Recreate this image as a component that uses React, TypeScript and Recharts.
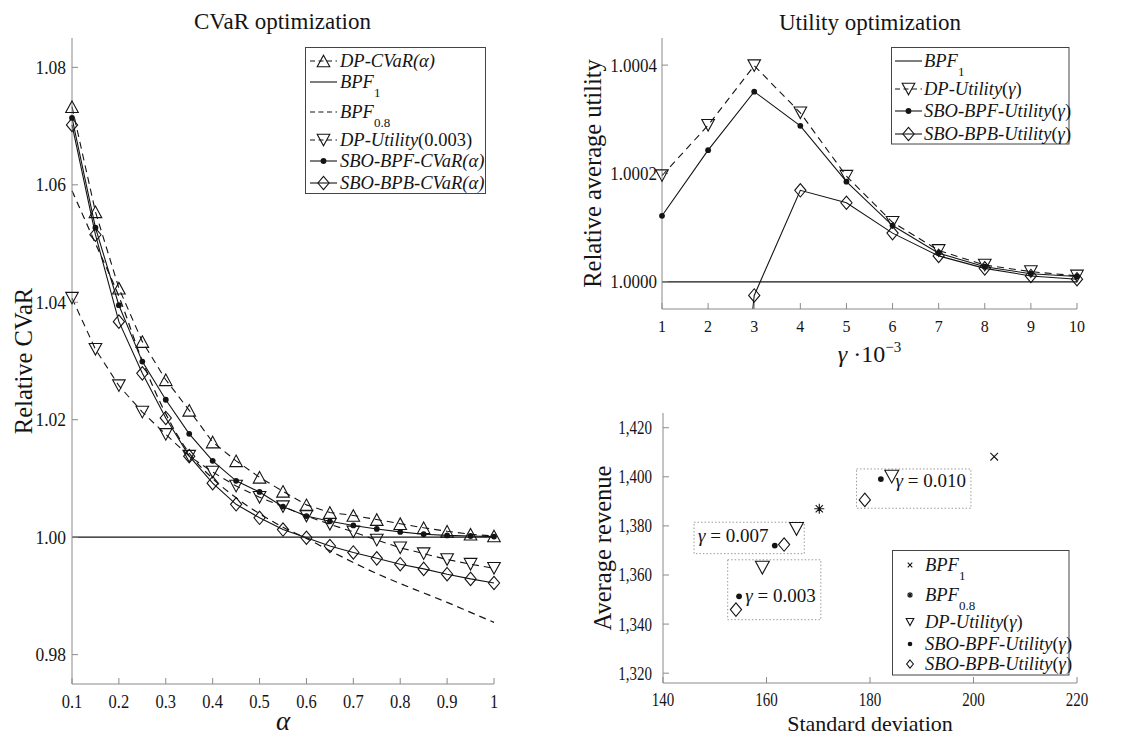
import React from 'react';
import { LineChart, Line, XAxis, YAxis, ScatterChart, Scatter, ReferenceArea } from 'recharts';

const FONT = '"Liberation Serif", "Times New Roman", serif';
const INK = '#141414';
const AXIS = '#8a8a8a';

// ---- CVaR optimization (left) ----
const cvarAlpha = [0.1, 0.15, 0.2, 0.25, 0.3, 0.35, 0.4, 0.45, 0.5, 0.55, 0.6, 0.65, 0.7, 0.75, 0.8, 0.85, 0.9, 0.95, 1];
const cvarTicksX = [0.1, 0.2, 0.3, 0.4, 0.5, 0.6, 0.7, 0.8, 0.9, 1];
const cvarTicksY = [0.98, 1.0, 1.02, 1.04, 1.06, 1.08];
const cvarDpCvar = [1.0733, 1.0554, 1.0424, 1.0333, 1.0268, 1.0216, 1.0162, 1.013, 1.0102, 1.0078, 1.0055, 1.0042, 1.0037, 1.003, 1.0023, 1.0016, 1.001, 1.0005, 1.0002];
const cvarBpf1 = [1, 1, 1, 1, 1, 1, 1, 1, 1, 1, 1, 1, 1, 1, 1, 1, 1, 1, 1];
const cvarBpf08 = [1.059, 1.05, 1.041, 1.03, 1.021, 1.0143, 1.01, 1.0067, 1.004, 1.0017, 0.9998, 0.9977, 0.9957, 0.9938, 0.9921, 0.9905, 0.9889, 0.9872, 0.9855];
const cvarDpUtility = [1.0407, 1.032, 1.0258, 1.0213, 1.0175, 1.0138, 1.0111, 1.0087, 1.0068, 1.0052, 1.0036, 1.0022, 1.0009, 0.9995, 0.9982, 0.9972, 0.9962, 0.9954, 0.9947];
const cvarSboBpf = [1.0714, 1.0527, 1.0395, 1.0299, 1.0234, 1.0176, 1.013, 1.0096, 1.0077, 1.0052, 1.0036, 1.0027, 1.002, 1.0014, 1.0009, 1.0005, 1.0003, 1.0002, 1.0001];
const cvarSboBpb = [1.0702, 1.0515, 1.0367, 1.0279, 1.0203, 1.0138, 1.0092, 1.0056, 1.0033, 1.0013, 0.9999, 0.9985, 0.9974, 0.9964, 0.9954, 0.9946, 0.9937, 0.9929, 0.9922];

// ---- Utility optimization (top right) ----
const utilGamma = [1, 2, 3, 4, 5, 6, 7, 8, 9, 10];
const utilTicksY = [1.0, 1.0002, 1.0004];
const utilBpf1 = [1, 1, 1, 1, 1, 1, 1, 1, 1, 1];
const utilDp = [1.000196, 1.000289, 1.000399, 1.000312, 1.000195, 1.00011, 1.000058, 1.000031, 1.000019, 1.000011];
const utilSboBpf = [1.000122, 1.000243, 1.000351, 1.000288, 1.000185, 1.000104, 1.000053, 1.000028, 1.000015, 1.00001];
const utilSboBpb = [0.9989, 0.99915, 0.999975, 1.000169, 1.000146, 1.00009, 1.000048, 1.000025, 1.000011, 1.000005];

// ---- Revenue vs standard deviation (bottom right) ----
const revTicksX = [140, 160, 180, 200, 220];
const revTicksY = [1320, 1340, 1360, 1380, 1400, 1420];
const bpf1Sd = [204.0];
const bpf1Rev = [1408.2];
const bpf08Sd = [170.2];
const bpf08Rev = [1387.0];
const dpUtilSd = [159.2, 165.8, 184.2];
const dpUtilRev = [1363.0, 1378.8, 1400.1];
const sboBpfSd = [154.7, 161.6, 182.1];
const sboBpfRev = [1351.3, 1372.0, 1399.1];
const sboBpbSd = [154.1, 163.4, 179.0];
const sboBpbRev = [1345.9, 1372.4, 1390.6];
const gammaBoxLabels = ['0.003', '0.007', '0.010'];
const gammaBoxSd = [[152.5, 170.5], [146.0, 167.3], [177.4, 199.5]];
const gammaBoxRev = [[1341.8, 1366.2], [1368.7, 1381.5], [1387.2, 1403.2]];

const cvarRows = cvarAlpha.map((a, i) => ({
  alpha: a,
  dpCvar: cvarDpCvar[i],
  bpf1: cvarBpf1[i],
  bpf08: cvarBpf08[i],
  dpUtility: cvarDpUtility[i],
  sboBpf: cvarSboBpf[i],
  sboBpb: cvarSboBpb[i],
}));

const utilRows = utilGamma.map((g, i) => ({
  gamma: g,
  bpf1: utilBpf1[i],
  dp: utilDp[i],
  sboBpf: utilSboBpf[i],
  sboBpb: utilSboBpb[i],
}));

const pts = (sd: number[], rev: number[]) => sd.map((s, i) => ({ sd: s, rev: rev[i] }));

type Kind = 'up' | 'down' | 'dot' | 'diamond' | 'cross' | 'star';

function Marker({ cx, cy, kind, s = 1 }: { cx?: number; cy?: number; kind: Kind; s?: number }) {
  if (cx == null || cy == null || Number.isNaN(cx) || Number.isNaN(cy)) return null;
  const common = { stroke: INK, strokeWidth: 1.1, fill: 'none' };
  if (kind === 'up') {
    const w = 6.3 * s, h = 5.8 * s;
    return <polygon points={`${cx},${cy - h} ${cx + w},${cy + h} ${cx - w},${cy + h}`} {...common} />;
  }
  if (kind === 'down') {
    const w = 6.3 * s, h = 5.8 * s;
    return <polygon points={`${cx - w},${cy - h} ${cx + w},${cy - h} ${cx},${cy + h}`} {...common} />;
  }
  if (kind === 'diamond') {
    const w = 5.6 * s, h = 6.7 * s;
    return <polygon points={`${cx},${cy - h} ${cx + w},${cy} ${cx},${cy + h} ${cx - w},${cy}`} {...common} />;
  }
  if (kind === 'dot') {
    return <circle cx={cx} cy={cy} r={2.9 * s} fill={INK} stroke="none" />;
  }
  if (kind === 'cross') {
    const r = 3.8 * s;
    return <path d={`M${cx - r},${cy - r}L${cx + r},${cy + r}M${cx + r},${cy - r}L${cx - r},${cy + r}`} {...common} />;
  }
  const r = 5 * s, d = r * 0.72;
  return (
    <path
      d={`M${cx - r},${cy}L${cx + r},${cy}M${cx},${cy - r}L${cx},${cy + r}M${cx - d},${cy - d}L${cx + d},${cy + d}M${cx + d},${cy - d}L${cx - d},${cy + d}`}
      {...common}
    />
  );
}

const dotOf = (kind: Kind) => (p: any) => <Marker key={`${kind}-${p.index}`} cx={p.cx} cy={p.cy} kind={kind} />;
const shapeOf = (kind: Kind, s = 1) => (p: any) => <Marker cx={p.cx} cy={p.cy} kind={kind} s={s} />;

// tick labels in the figure are slightly taller than the font's natural proportions
const makeTick = (fs: number, sy: number, fmt: (v: number) => string, mode: 'x' | 'y') => (p: any) => {
  const capH = 0.66 * fs * sy;
  const by = mode === 'x' ? p.y + capH : p.y + capH / 2;
  return (
    <g transform={`translate(${p.x},${by}) scale(1,${sy})`}>
      <text x={0} y={0} textAnchor={p.textAnchor} fontSize={fs} fontFamily={FONT} fill={INK}>
        {fmt(p.payload.value)}
      </text>
    </g>
  );
};

const DASH = '7 5';

function GammaLabel({ viewBox, text, align, fy }: any) {
  if (!viewBox) return null;
  const { x, y, width, height } = viewBox;
  const tx = align === 'start' ? x + 4 : x + width - 5;
  return (
    <text x={tx} y={y + height * fy} dy={6} textAnchor={align} fontFamily={FONT} fontSize={19} fill={INK}>
      <tspan fontStyle="italic">γ</tspan> = {text}
    </text>
  );
}

const gammaLabelAlign = ['end', 'start', 'end'];
const gammaLabelFy = [0.6, 0.44, 0.3];

function LegendRow({ x, base, kind, line, children, textX, ms }: any) {
  const cy = base - 6;
  return (
    <g>
      {line !== 'none' && (
        <line x1={x} x2={x + 27} y1={cy} y2={cy} stroke={INK} strokeWidth={1.1} strokeDasharray={line === 'dashed' ? '5 3.5' : undefined} />
      )}
      {kind && <Marker cx={line === 'none' ? x : x + 13.5} cy={cy} kind={kind} s={ms ?? (line === 'none' ? 0.6 : 1)} />}
      <text x={textX} y={base} fontFamily={FONT} fontSize={18.5} fill={INK}>
        {children}
      </text>
    </g>
  );
}

const Sub = ({ t }: { t: string }) => (
  <tspan fontSize={13} dy={9}>{t}</tspan>
);

export default function App() {
  return (
    <div style={{ position: 'absolute', left: 0, top: 0, width: 1142, height: 735, background: '#fff', fontFamily: FONT }}>
      {/* Left: CVaR optimization */}
      <div style={{ position: 'absolute', left: 0, top: 0 }}>
        <LineChart width={560} height={735} data={cvarRows} margin={{ top: 38, right: 66, bottom: 0, left: 0 }}>
          <XAxis
            dataKey="alpha"
            type="number"
            domain={[0.1, 1]}
            ticks={cvarTicksX}
            height={51}
            stroke={AXIS}
            tickSize={-6}
            tickMargin={17}
            tick={makeTick(16.5, 1.17, (v) => (v === 1 ? '1' : v.toFixed(1)), 'x')}
            label={(p: any) =>
              p.viewBox ? (
                <text x={p.viewBox.x + p.viewBox.width / 2} y={p.viewBox.y + 46} textAnchor="middle" fontFamily={FONT} fontStyle="italic" fontSize={27} fill={INK}>
                  α
                </text>
              ) : null
            }
          />
          <XAxis xAxisId="top" orientation="top" dataKey="alpha" type="number" domain={[0.1, 1]} ticks={cvarTicksX} height={0} stroke={AXIS} tickSize={-6} tick={false} />
          <YAxis
            type="number"
            domain={[0.975, 1.085]}
            ticks={cvarTicksY}
            width={72}
            stroke={AXIS}
            tickSize={-6}
            tickMargin={12}
            tick={makeTick(17.5, 1.12, (v) => v.toFixed(2), 'y')}
            label={(p: any) => {
              if (!p.viewBox) return null;
              const x = p.viewBox.x + 32;
              const y = p.viewBox.y + p.viewBox.height / 2;
              return (
                <text x={x} y={y} transform={`rotate(-90 ${x} ${y})`} textAnchor="middle" fontFamily={FONT} fontSize={24.5} fill={INK}>
                  Relative CVaR
                </text>
              );
            }}
          />
          <YAxis yAxisId="right" orientation="right" type="number" domain={[0.975, 1.085]} ticks={cvarTicksY} width={0} stroke={AXIS} tickSize={-6} tick={false} />
          <Line dataKey="bpf1" type="linear" stroke={INK} strokeWidth={1.2} dot={false} activeDot={false} isAnimationActive={false} />
          <Line dataKey="bpf08" type="monotone" stroke={INK} strokeWidth={1.2} strokeDasharray={DASH} dot={false} activeDot={false} isAnimationActive={false} />
          <Line dataKey="dpCvar" type="linear" stroke={INK} strokeWidth={1.1} strokeDasharray={DASH} dot={dotOf('up')} activeDot={false} isAnimationActive={false} />
          <Line dataKey="dpUtility" type="linear" stroke={INK} strokeWidth={1.1} strokeDasharray={DASH} dot={dotOf('down')} activeDot={false} isAnimationActive={false} />
          <Line dataKey="sboBpf" type="linear" stroke={INK} strokeWidth={1.1} dot={dotOf('dot')} activeDot={false} isAnimationActive={false} />
          <Line dataKey="sboBpb" type="linear" stroke={INK} strokeWidth={1.1} dot={dotOf('diamond')} activeDot={false} isAnimationActive={false} />
        </LineChart>
      </div>

      {/* Top right: Utility optimization */}
      <div style={{ position: 'absolute', left: 570, top: 0 }}>
        <LineChart width={572} height={380} data={utilRows} margin={{ top: 38, right: 65, bottom: 0, left: 0 }}>
          <XAxis
            dataKey="gamma"
            type="number"
            domain={[1, 10]}
            ticks={utilGamma}
            height={71}
            stroke={AXIS}
            tickSize={-6}
            tickMargin={17}
            tick={makeTick(16, 1.1, (v) => String(v), 'x')}
            label={(p: any) =>
              p.viewBox ? (
                <text x={p.viewBox.x + p.viewBox.width / 2} y={p.viewBox.y + 53} textAnchor="middle" fontFamily={FONT} fontSize={24} fill={INK}>
                  <tspan fontStyle="italic">γ</tspan>
                  <tspan> ·10</tspan>
                  <tspan fontSize={15} dy={-10}>−3</tspan>
                </text>
              ) : null
            }
          />
          <XAxis xAxisId="top" orientation="top" dataKey="gamma" type="number" domain={[1, 10]} ticks={utilGamma} height={0} stroke={AXIS} tickSize={-6} tick={false} />
          <YAxis
            type="number"
            domain={[0.99995, 1.00045]}
            allowDataOverflow
            ticks={utilTicksY}
            width={92}
            stroke={AXIS}
            tickSize={-6}
            tickMargin={11}
            tick={makeTick(17, 1.15, (v) => v.toFixed(4), 'y')}
            label={(p: any) => {
              if (!p.viewBox) return null;
              const x = p.viewBox.x + 31;
              const y = p.viewBox.y + p.viewBox.height / 2;
              return (
                <text x={x} y={y} transform={`rotate(-90 ${x} ${y})`} textAnchor="middle" fontFamily={FONT} fontSize={24.5} fill={INK}>
                  Relative average utility
                </text>
              );
            }}
          />
          <YAxis yAxisId="right" orientation="right" type="number" domain={[0.99995, 1.00045]} allowDataOverflow ticks={utilTicksY} width={0} stroke={AXIS} tickSize={-6} tick={false} />
          <Line dataKey="bpf1" type="linear" stroke={INK} strokeWidth={1.2} dot={false} activeDot={false} isAnimationActive={false} />
          <Line dataKey="dp" type="linear" stroke={INK} strokeWidth={1.1} strokeDasharray={DASH} dot={dotOf('down')} activeDot={false} isAnimationActive={false} />
          <Line dataKey="sboBpf" type="linear" stroke={INK} strokeWidth={1.1} dot={dotOf('dot')} activeDot={false} isAnimationActive={false} />
          <Line dataKey="sboBpb" type="linear" stroke={INK} strokeWidth={1.1} dot={dotOf('diamond')} activeDot={false} isAnimationActive={false} />
        </LineChart>
      </div>

      {/* Bottom right: average revenue vs standard deviation */}
      <div style={{ position: 'absolute', left: 570, top: 380 }}>
        <ScatterChart width={572} height={355} margin={{ top: 33, right: 65, bottom: 0, left: 0 }}>
          <XAxis
            dataKey="sd"
            type="number"
            domain={[140, 220]}
            ticks={revTicksX}
            height={52}
            stroke={AXIS}
            tickSize={-6}
            tickMargin={16}
            tick={makeTick(15, 1.3, (v) => String(v), 'x')}
            label={(p: any) =>
              p.viewBox ? (
                <text x={p.viewBox.x + p.viewBox.width / 2} y={p.viewBox.y + 47.5} textAnchor="middle" fontFamily={FONT} fontSize={22} fill={INK}>
                  Standard deviation
                </text>
              ) : null
            }
          />
          <XAxis xAxisId="top" orientation="top" dataKey="sd" type="number" domain={[140, 220]} ticks={revTicksX} height={0} stroke={AXIS} tickSize={-6} tick={false} />
          <YAxis
            dataKey="rev"
            type="number"
            domain={[1316, 1426]}
            ticks={revTicksY}
            width={93}
            stroke={AXIS}
            tickSize={-6}
            tickMargin={17}
            tick={makeTick(15, 1.3, (v) => v.toLocaleString('en-US'), 'y')}
            label={(p: any) => {
              if (!p.viewBox) return null;
              const x = p.viewBox.x + 41;
              const y = p.viewBox.y + p.viewBox.height / 2;
              return (
                <text x={x} y={y} transform={`rotate(-90 ${x} ${y})`} textAnchor="middle" fontFamily={FONT} fontSize={24.5} fill={INK}>
                  Average revenue
                </text>
              );
            }}
          />
          <YAxis yAxisId="right" orientation="right" dataKey="rev" type="number" domain={[1316, 1426]} ticks={revTicksY} width={0} stroke={AXIS} tickSize={-6} tick={false} />
          {gammaBoxLabels.map((t, i) => (
            <ReferenceArea
              key={t}
              x1={gammaBoxSd[i][0]}
              x2={gammaBoxSd[i][1]}
              y1={gammaBoxRev[i][0]}
              y2={gammaBoxRev[i][1]}
              fill="none"
              fillOpacity={0}
              stroke="#9a9a9a"
              strokeWidth={1}
              strokeDasharray="1.5 2"
              label={(p: any) => <GammaLabel viewBox={p.viewBox} text={t} align={gammaLabelAlign[i]} fy={gammaLabelFy[i]} />}
            />
          ))}
          <Scatter data={pts(bpf1Sd, bpf1Rev)} shape={shapeOf('cross')} isAnimationActive={false} />
          <Scatter data={pts(bpf08Sd, bpf08Rev)} shape={shapeOf('star')} isAnimationActive={false} />
          <Scatter data={pts(dpUtilSd, dpUtilRev)} shape={shapeOf('down', 1.1)} isAnimationActive={false} />
          <Scatter data={pts(sboBpfSd, sboBpfRev)} shape={shapeOf('dot')} isAnimationActive={false} />
          <Scatter data={pts(sboBpbSd, sboBpbRev)} shape={shapeOf('diamond')} isAnimationActive={false} />
        </ScatterChart>
      </div>

      {/* Titles and legends */}
      <svg width={1142} height={735} style={{ position: 'absolute', left: 0, top: 0, pointerEvents: 'none' }}>
        <text x={282.5} y={29} textAnchor="middle" fontFamily={FONT} fontSize={23} fill={INK}>CVaR optimization</text>
        <text x={870} y={30} textAnchor="middle" fontFamily={FONT} fontSize={23} fill={INK}>Utility optimization</text>

        <rect x={305.5} y={47.5} width={180} height={146} fill="#fff" stroke="#444" strokeWidth={1} />
        <LegendRow x={310} base={67} kind="up" line="dashed" textX={340}><tspan fontStyle="italic">DP-CVaR(α)</tspan></LegendRow>
        <LegendRow x={310} base={88} line="solid" textX={340}><tspan fontStyle="italic">BPF</tspan><Sub t="1" /></LegendRow>
        <LegendRow x={310} base={118} line="dashed" textX={340}><tspan fontStyle="italic">BPF</tspan><Sub t="0.8" /></LegendRow>
        <LegendRow x={310} base={146} kind="down" line="dashed" textX={340}><tspan fontStyle="italic">DP-Utility</tspan>(0.003)</LegendRow>
        <LegendRow x={310} base={167} kind="dot" line="solid" textX={340}><tspan fontStyle="italic">SBO-BPF-CVaR(α)</tspan></LegendRow>
        <LegendRow x={310} base={189} kind="diamond" line="solid" textX={340}><tspan fontStyle="italic">SBO-BPB-CVaR(α)</tspan></LegendRow>

        <rect x={891.5} y={47.5} width={177.5} height={96.5} fill="#fff" stroke="#444" strokeWidth={1} />
        <LegendRow x={895} base={67} line="solid" textX={924}><tspan fontStyle="italic">BPF</tspan><Sub t="1" /></LegendRow>
        <LegendRow x={895} base={95} kind="down" line="dashed" textX={924}><tspan fontStyle="italic">DP-Utility</tspan>(<tspan fontStyle="italic">γ</tspan>)</LegendRow>
        <LegendRow x={895} base={117} kind="dot" line="solid" textX={924}><tspan fontStyle="italic">SBO-BPF-Utility</tspan>(<tspan fontStyle="italic">γ</tspan>)</LegendRow>
        <LegendRow x={895} base={140} kind="diamond" line="solid" textX={924}><tspan fontStyle="italic">SBO-BPB-Utility</tspan>(<tspan fontStyle="italic">γ</tspan>)</LegendRow>

        <rect x={892.5} y={550.5} width={176.5} height={124.5} fill="#fff" stroke="#444" strokeWidth={1} />
        <LegendRow x={910} base={571} kind="cross" line="none" textX={925}><tspan fontStyle="italic">BPF</tspan><Sub t="1" /></LegendRow>
        <LegendRow x={910} base={601} kind="star" line="none" textX={925}><tspan fontStyle="italic">BPF</tspan><Sub t="0.8" /></LegendRow>
        <LegendRow x={910} base={628} kind="down" line="none" textX={925}><tspan fontStyle="italic">DP-Utility</tspan>(<tspan fontStyle="italic">γ</tspan>)</LegendRow>
        <LegendRow x={910} base={650} kind="dot" line="none" textX={925} ms={0.8}><tspan fontStyle="italic">SBO-BPF-Utility</tspan>(<tspan fontStyle="italic">γ</tspan>)</LegendRow>
        <LegendRow x={910} base={670} kind="diamond" line="none" textX={925}><tspan fontStyle="italic">SBO-BPB-Utility</tspan>(<tspan fontStyle="italic">γ</tspan>)</LegendRow>
      </svg>
    </div>
  );
}
